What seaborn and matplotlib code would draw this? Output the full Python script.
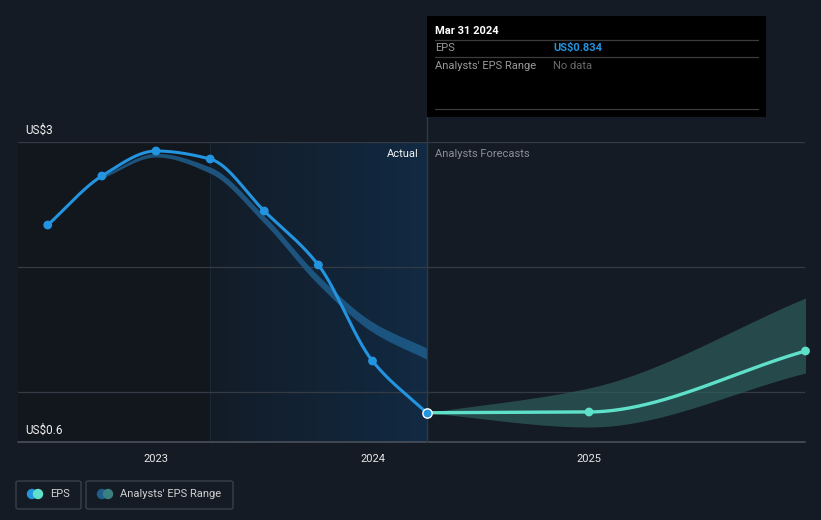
import numpy as np
import pandas as pd
import matplotlib
matplotlib.use("Agg")
import matplotlib.pyplot as plt
from matplotlib.patches import Rectangle, FancyBboxPatch, Ellipse
from matplotlib.lines import Line2D
from matplotlib.colors import LinearSegmentedColormap
import seaborn as sns

# ---------------- data ----------------
hist_dates = [2022.5, 2022.75, 2023.0, 2023.25, 2023.5, 2023.75, 2024.0, 2024.25]
hist_eps = [2.336, 2.728, 2.928, 2.864, 2.448, 2.016, 1.248, 0.834]

past_range_dates = [2022.75, 2023.0, 2023.25, 2023.5, 2023.75, 2024.0, 2024.25]
past_range_low = [2.71, 2.88, 2.75, 2.35, 1.86, 1.48, 1.262]
past_range_high = [2.73, 2.91, 2.80, 2.41, 1.93, 1.56, 1.352]

fc_dates = [2024.25, 2025.0, 2026.0]
fc_eps = [0.834, 0.84, 1.328]
fc_low = [0.834, 0.72, 1.152]
fc_high = [0.834, 1.032, 1.752]

year_ticks = [2023, 2024, 2025]
year_labels = ["2023", "2024", "2025"]
y_labels = ["US$3", "US$0.6"]

# ---------------- helpers ----------------
def monotone(x, y, n=200):
    x = np.asarray(x, float); y = np.asarray(y, float)
    h = np.diff(x); d = np.diff(y) / h
    m = np.zeros_like(y)
    m[0] = d[0]; m[-1] = d[-1]
    for i in range(1, len(y) - 1):
        if d[i - 1] * d[i] <= 0:
            m[i] = 0
        else:
            w1 = 2 * h[i] + h[i - 1]; w2 = h[i] + 2 * h[i - 1]
            m[i] = (w1 + w2) / (w1 / d[i - 1] + w2 / d[i])
    xs = np.linspace(x[0], x[-1], n)
    idx = np.clip(np.searchsorted(x, xs) - 1, 0, len(x) - 2)
    t = (xs - x[idx]) / h[idx]
    h00 = 2 * t**3 - 3 * t**2 + 1; h10 = t**3 - 2 * t**2 + t
    h01 = -2 * t**3 + 3 * t**2; h11 = t**3 - t**2
    ys = h00 * y[idx] + h10 * h[idx] * m[idx] + h01 * y[idx + 1] + h11 * h[idx] * m[idx + 1]
    return xs, ys

BG = "#151b24"
BLUE = "#2394df"
TEAL = "#5fe0c9"

sns.set_theme(style="dark")
plt.rcParams["font.family"] = ["Roboto", "DejaVu Sans"]

W, H = 821, 520
fig = plt.figure(figsize=(W / 100, H / 100), dpi=100, facecolor=BG)
L, R, T, B = 18, 805, 142, 442
ax = fig.add_axes([L / W, 1 - B / H, (R - L) / W, (B - T) / H])
ax.set_facecolor(BG)
x0 = 2023 - (156 - L) / 216.5
x1 = 2023 + (R - 156) / 216.5
ax.set_xlim(x0, x1)
ax.set_ylim(0.6, 3.0)
for s in ax.spines.values():
    s.set_visible(False)

# shaded regions
ax.axvspan(x0, 2023.25, color="#12161d", zorder=0, lw=0)
grad = np.linspace(0, 1, 256).reshape(1, -1)
cmap = LinearSegmentedColormap.from_list("g", ["#131c27", "#112a43"])
ax.imshow(grad, extent=[2023.25, 2024.25, 0.6, 3.0], aspect="auto", cmap=cmap, zorder=0.5)
ax.axvline(2023.25, color="#1a2736", lw=0.8, zorder=1)

# gridlines
for yv in [3.0, 2.0, 1.0]:
    ax.axhline(yv, color="#353b45", lw=0.9, zorder=1)
ax.axhline(0.6, color="#4a505a", lw=1.2, zorder=1, clip_on=False)

# past analysts range
px, plo = monotone(past_range_dates, past_range_low)
_, phi = monotone(past_range_dates, past_range_high)
ax.fill_between(px, plo, phi, color="#1f5d8c", alpha=0.85, lw=0, zorder=2)

# forecast range
fx, flo = monotone(fc_dates, fc_low)
_, fhi = monotone(fc_dates, fc_high)
ax.fill_between(fx, flo, fhi, color="#2d5a5a", alpha=0.75, lw=0, zorder=2)

# lines via seaborn
hx, hy = monotone(hist_dates, hist_eps, 400)
df_h = pd.DataFrame({"date": hx, "eps": hy})
sns.lineplot(data=df_h, x="date", y="eps", ax=ax, color=BLUE, lw=2.2, zorder=4, sort=False)
cx, cy = monotone(fc_dates, fc_eps, 300)
df_f = pd.DataFrame({"date": cx, "eps": cy})
sns.lineplot(data=df_f, x="date", y="eps", ax=ax, color=TEAL, lw=2.4, zorder=4, sort=False)

df_hp = pd.DataFrame({"date": hist_dates[:-1], "eps": hist_eps[:-1]})
sns.scatterplot(data=df_hp, x="date", y="eps", ax=ax, color=BLUE, s=40, edgecolor="none", zorder=5)
df_fp = pd.DataFrame({"date": fc_dates[1:], "eps": fc_eps[1:]})
sns.scatterplot(data=df_fp, x="date", y="eps", ax=ax, color=TEAL, s=40, edgecolor="none", zorder=5, clip_on=False)
ax.scatter([hist_dates[-1]], [hist_eps[-1]], s=45, color=BLUE, edgecolor="white", linewidth=1.0, zorder=6)

# vertical divider at latest actual
ax.plot([2024.25, 2024.25], [0.6, 3.0 + 25 / 125], color="#2b3a4a", lw=1.0, zorder=3, clip_on=False)

ax.set_xlabel(""); ax.set_ylabel("")
ax.set_xticks(year_ticks)
ax.set_xticklabels(year_labels, color="#e8e8e8", fontsize=8)
ax.tick_params(axis="x", length=4, color="#4a505a", pad=5, width=1)
ax.set_yticks([])
ax.grid(False)

# labels
ax.text(2024.25 - 8 / 216.5, 3.0 - 12 / 125, "Actual", color="#f2f2f2", fontsize=8, ha="right", va="center", zorder=7)
ax.text(2024.25 + 8 / 216.5, 3.0 - 12 / 125, "Analysts Forecasts", color="#8a8f98", fontsize=8, ha="left", va="center", zorder=7)
fig.text(25 / W, 1 - 130 / H, y_labels[0], color="#f0f0f0", fontsize=8.5, va="center")
fig.text(25 / W, 1 - 430 / H, y_labels[1], color="#f0f0f0", fontsize=8.5, va="center")

# tooltip
fig.patches.append(Rectangle((427 / W, 1 - 117 / H), (766 - 427) / W, (117 - 16) / H,
                             transform=fig.transFigure, facecolor="#000000", edgecolor="none", zorder=10))
for yy in [40, 57, 109]:
    fig.lines.append(Line2D([435 / W, 758 / W], [1 - yy / H, 1 - yy / H], transform=fig.transFigure,
                            color="#3c3c3c", lw=0.9, zorder=11))
fig.text(435 / W, 1 - 31 / H, "Mar 31 2024", color="white", fontsize=8, fontweight="bold", va="center", zorder=12)
fig.text(435 / W, 1 - 48 / H, "EPS", color="#9a9a9a", fontsize=8, va="center", zorder=12)
fig.text(553 / W, 1 - 48 / H, "US$0.834", color=BLUE, fontsize=8, fontweight="bold", va="center", zorder=12)
fig.text(435 / W, 1 - 66 / H, "Analysts' EPS Range", color="#9a9a9a", fontsize=8, va="center", zorder=12)
fig.text(553 / W, 1 - 66 / H, "No data", color="#6a6a6a", fontsize=8, va="center", zorder=12)

# legend boxes
def legend_box(x, w, c1, c2, label):
    fig.patches.append(FancyBboxPatch((x / W, 1 - 509 / H), w / W, 28 / H, boxstyle="round,pad=0,rounding_size=0.003",
                                      transform=fig.transFigure, facecolor=BG, edgecolor="#3d434c", lw=0.9))
    fig.patches.append(Ellipse(((x + 16) / W, 1 - 494 / H), 9 / W, 9 / H, transform=fig.transFigure, color=c1))
    fig.patches.append(Ellipse(((x + 22) / W, 1 - 494 / H), 9 / W, 9 / H, transform=fig.transFigure, color=c2))
    fig.text((x + 34) / W, 1 - 494 / H, label, color="#d0d0d0", fontsize=8, va="center")

legend_box(16, 65, BLUE, TEAL, "EPS")
legend_box(86, 147, "#1f5d8c", "#3a8080", "Analysts' EPS Range")

fig.savefig("out.png", dpi=100, facecolor=BG)
